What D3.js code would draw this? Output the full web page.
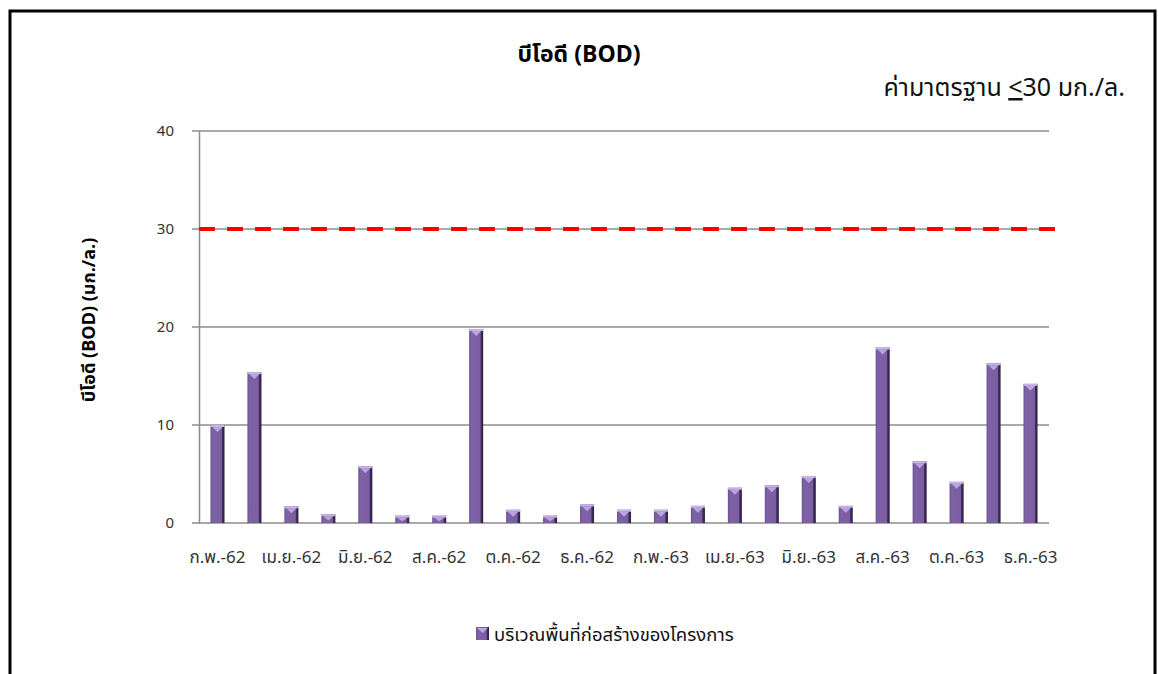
<!DOCTYPE html>
<html>
<head>
<meta charset="utf-8">
<script src="https://cdn.jsdelivr.net/npm/d3@7"></script>
<style>
  body { margin: 0; background: #fff; }
  text { font-family: "Noto Sans Thai", Tahoma, "Noto Sans", "DejaVu Sans", sans-serif; }
</style>
</head>
<body>
<div id="chart"></div>
<script>
// months Feb-62 .. Dec-63
var months = ["ก.พ.-62","มี.ค.-62","เม.ย.-62","พ.ค.-62","มิ.ย.-62","ก.ค.-62","ส.ค.-62","ก.ย.-62",
              "ต.ค.-62","พ.ย.-62","ธ.ค.-62","ม.ค.-63","ก.พ.-63","มี.ค.-63","เม.ย.-63","พ.ค.-63",
              "มิ.ย.-63","ก.ค.-63","ส.ค.-63","ก.ย.-63","ต.ค.-63","พ.ย.-63","ธ.ค.-63"];
var bodValues = [10, 15.4, 1.7, 0.9, 5.8, 0.75, 0.75, 19.8,
                 1.35, 0.75, 1.9, 1.35, 1.35, 1.75, 3.6, 3.85,
                 4.8, 1.75, 17.9, 6.3, 4.2, 16.3, 14.2];
var yTicks = [0, 10, 20, 30, 40];
var standard = 30;
var seriesName = "บริเวณพื้นที่ก่อสร้างของโครงการ";

var width = 1158, height = 674;
var margin = {left: 199, right: 109, top: 131, bottom: 151};

var svg = d3.select("#chart").append("svg")
    .attr("width", width)
    .attr("height", height);

var defs = svg.append("defs");
var grad = defs.append("linearGradient").attr("id", "barGrad")
    .attr("x1", "0%").attr("x2", "100%").attr("y1", "0%").attr("y2", "0%");
grad.append("stop").attr("offset", "0%").attr("stop-color", "#6a5090");
grad.append("stop").attr("offset", "15%").attr("stop-color", "#7e62a6");
grad.append("stop").attr("offset", "78%").attr("stop-color", "#7b5ea2");
grad.append("stop").attr("offset", "85%").attr("stop-color", "#3f2d57");
grad.append("stop").attr("offset", "100%").attr("stop-color", "#2e2040");

// frame
svg.append("rect")
    .attr("x", 10).attr("y", 11)
    .attr("width", 1145).attr("height", 720)
    .attr("fill", "none")
    .attr("stroke", "#000")
    .attr("stroke-width", 3);

var x = d3.scaleBand()
    .domain(months)
    .range([margin.left, width - margin.right])
    .paddingInner(0.62)
    .paddingOuter(0.31);

var y = d3.scaleLinear()
    .domain([0, 40])
    .range([height - margin.bottom, margin.top]);

// grid lines
svg.append("g").selectAll("line")
    .data(yTicks)
    .enter().append("line")
    .attr("x1", margin.left - 7)
    .attr("x2", width - margin.right)
    .attr("y1", function(d){ return y(d); })
    .attr("y2", function(d){ return y(d); })
    .attr("stroke", "#8c8c8c")
    .attr("stroke-width", 1.5);

// y axis
var yAxis = svg.append("g")
    .attr("transform", "translate(" + margin.left + ",0)")
    .call(d3.axisLeft(y).tickValues(yTicks).tickSize(0).tickPadding(25));
yAxis.select(".domain").attr("stroke", "#8c8c8c").attr("stroke-width", 1.5);
yAxis.selectAll("text")
    .style("font-size", "15px")
    .attr("fill", "#333");

// bars
var bars = svg.append("g").selectAll("g")
    .data(bodValues)
    .enter().append("g");

bars.append("rect")
    .attr("x", function(d, i){ return x(months[i]); })
    .attr("y", function(d){ return y(d); })
    .attr("width", x.bandwidth())
    .attr("height", function(d){ return y(0) - y(d); })
    .attr("fill", "url(#barGrad)");

// bevel top
bars.append("rect")
    .attr("x", function(d, i){ return x(months[i]); })
    .attr("y", function(d){ return y(d); })
    .attr("width", x.bandwidth())
    .attr("height", 2)
    .attr("fill", "#c7b3e6");

bars.append("path")
    .attr("d", function(d, i){
        var x0 = x(months[i]), w = x.bandwidth(), t = y(d);
        var h = Math.min(5, (y(0) - t) / 2);
        return "M" + (x0 + 2) + "," + (t + 2) + "L" + (x0 + w - 2) + "," + (t + 2) +
               "L" + (x0 + w / 2) + "," + (t + 2 + h) + "Z";
    })
    .attr("fill", "#bba4e0");

// standard line
svg.append("line")
    .attr("x1", margin.left)
    .attr("x2", width - margin.right + 6)
    .attr("y1", y(standard))
    .attr("y2", y(standard))
    .attr("stroke", "#ff0000")
    .attr("stroke-width", 4)
    .attr("stroke-dasharray", "16,12");

// x labels, every second month
svg.append("g").selectAll("text")
    .data(months.filter(function(d, i){ return i % 2 === 0; }))
    .enter().append("text")
    .attr("x", function(d){ return x(d) + x.bandwidth() / 2; })
    .attr("y", 563)
    .attr("text-anchor", "middle")
    .style("font-size", "17px")
    .attr("fill", "#333")
    .text(function(d){ return d; });

// title
svg.append("text")
    .attr("x", 579).attr("y", 62)
    .attr("text-anchor", "middle")
    .style("font-size", "23px")
    .style("font-weight", "bold")
    .text("บีโอดี (BOD)");

// standard note
var note = svg.append("text")
    .attr("x", 1125).attr("y", 96)
    .attr("text-anchor", "end")
    .style("font-size", "25px")
    .attr("fill", "#111");
note.append("tspan").text("ค่ามาตรฐาน ");
note.append("tspan").style("text-decoration", "underline").text("<");
note.append("tspan").text("30 มก./ล.");

// y axis title
svg.append("text")
    .attr("transform", "translate(95,320) rotate(-90)")
    .attr("text-anchor", "middle")
    .style("font-size", "18px")
    .style("font-weight", "bold")
    .text("บีโอดี (BOD) (มก./ล.)");

// legend
svg.append("rect")
    .attr("x", 476).attr("y", 627)
    .attr("width", 13).attr("height", 13)
    .attr("fill", "url(#barGrad)");
svg.append("path")
    .attr("d", "M477,628L488,628L482.5,633Z")
    .attr("fill", "#bba4e0");
svg.append("text")
    .attr("x", 494).attr("y", 641)
    .style("font-size", "18.5px")
    .attr("fill", "#111")
    .text(seriesName);
</script>
</body>
</html>
